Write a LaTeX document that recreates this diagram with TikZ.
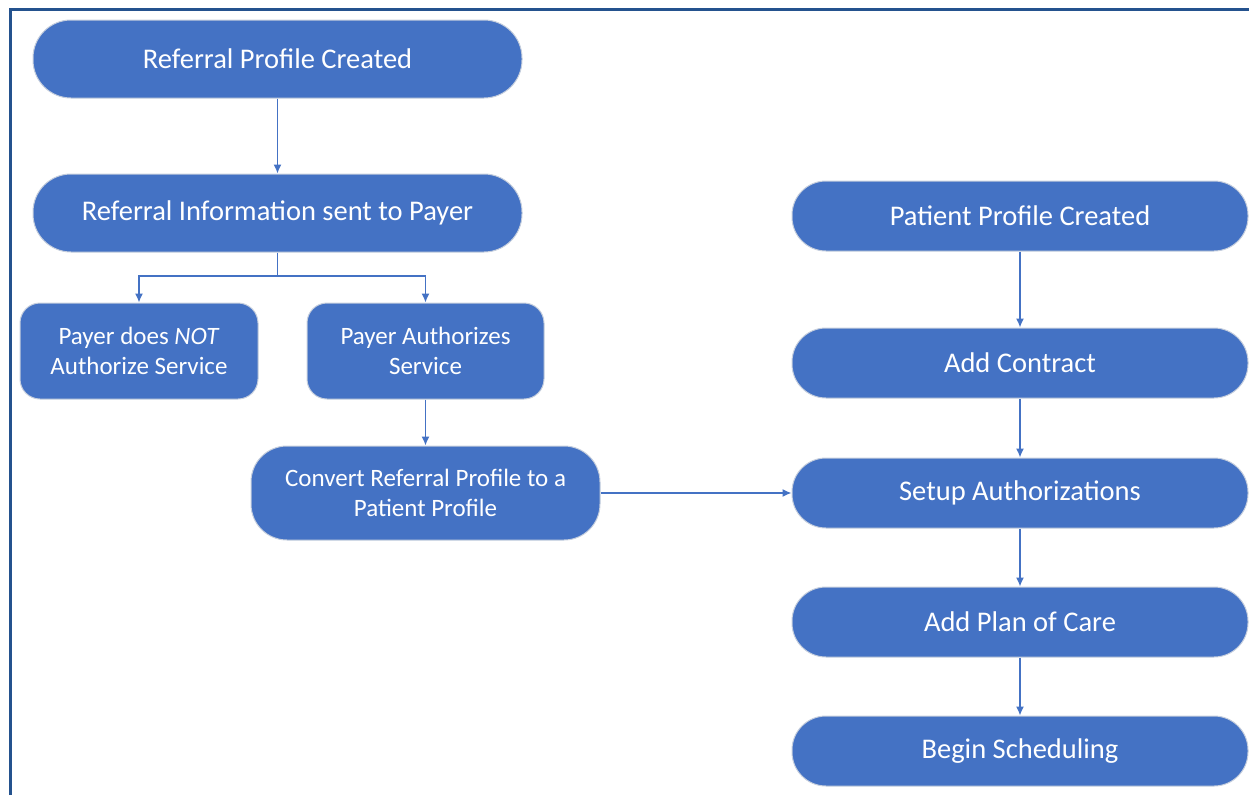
\documentclass[tikz,border=0pt]{standalone}
\usepackage{fontspec}
\setmainfont{Carlito}
\usetikzlibrary{arrows.meta}
\definecolor{boxblue}{HTML}{4472C4}
\definecolor{edgegray}{HTML}{C5CEDD}
\definecolor{framblue}{HTML}{24528E}
\tikzset{
  big/.style={draw=edgegray, line width=1pt, fill=boxblue, text=white, font=\fontsize{28.5}{33}\selectfont, align=center, inner sep=0pt, minimum height=78pt, rounded corners=38pt},
  rbox/.style={draw=edgegray, line width=1pt, fill=boxblue, text=white, font=\fontsize{28.5}{33}\selectfont, align=center, inner sep=0pt, minimum width=456pt, minimum height=70pt, rounded corners=34pt},
  smallbox/.style={draw=edgegray, line width=1pt, fill=boxblue, text=white, font=\fontsize{25}{30}\selectfont, align=center, inner sep=0pt, minimum height=96pt, rounded corners=20pt},
  conn/.style={draw=boxblue, line width=1.4pt, -{Latex[length=9pt,width=8pt]}},
}
\begin{document}
\begin{tikzpicture}[x=1pt,y=-1pt]
\useasboundingbox (0,0) rectangle (1249,795);
\draw[framblue, line width=3pt] (10.5,795) -- (10.5,9.5) -- (1249,9.5);

\node[big, minimum width=489pt] (rpc) at (277.5,59) {Referral Profile Created};
\node[big, minimum width=489pt] (ris) at (277.5,213) {Referral Information sent to Payer};
\node[smallbox, minimum width=238pt] (pna) at (139,351) {Payer does \textit{NOT}\\Authorize Service};
\node[smallbox, minimum width=237pt] (pas) at (425.5,351) {Payer Authorizes\\Service};
\node[smallbox, minimum width=349pt, minimum height=94pt, rounded corners=36pt] (crp) at (425.5,493) {Convert Referral Profile to a\\Patient Profile};

\node[rbox] (ppc) at (1020,216) {Patient Profile Created};
\node[rbox] (adc) at (1020,363) {Add Contract};
\node[rbox] (sua) at (1020,493) {Setup Authorizations};
\node[rbox] (apc) at (1020,622) {Add Plan of Care};
\node[rbox] (bsc) at (1020,751) {Begin Scheduling};

\coordinate (split) at (277.5,276);
\draw[conn] (rpc) -- (ris);
\draw[conn] (ris.south) -- (split) -| (pna.north);
\draw[conn] (split) -| (pas.north);
\draw[conn] (pas) -- (crp);
\draw[conn] (crp) -- (sua);
\draw[conn] (ppc) -- (adc);
\draw[conn] (adc) -- (sua);
\draw[conn] (sua) -- (apc);
\draw[conn] (apc) -- (bsc);
\end{tikzpicture}
\end{document}
